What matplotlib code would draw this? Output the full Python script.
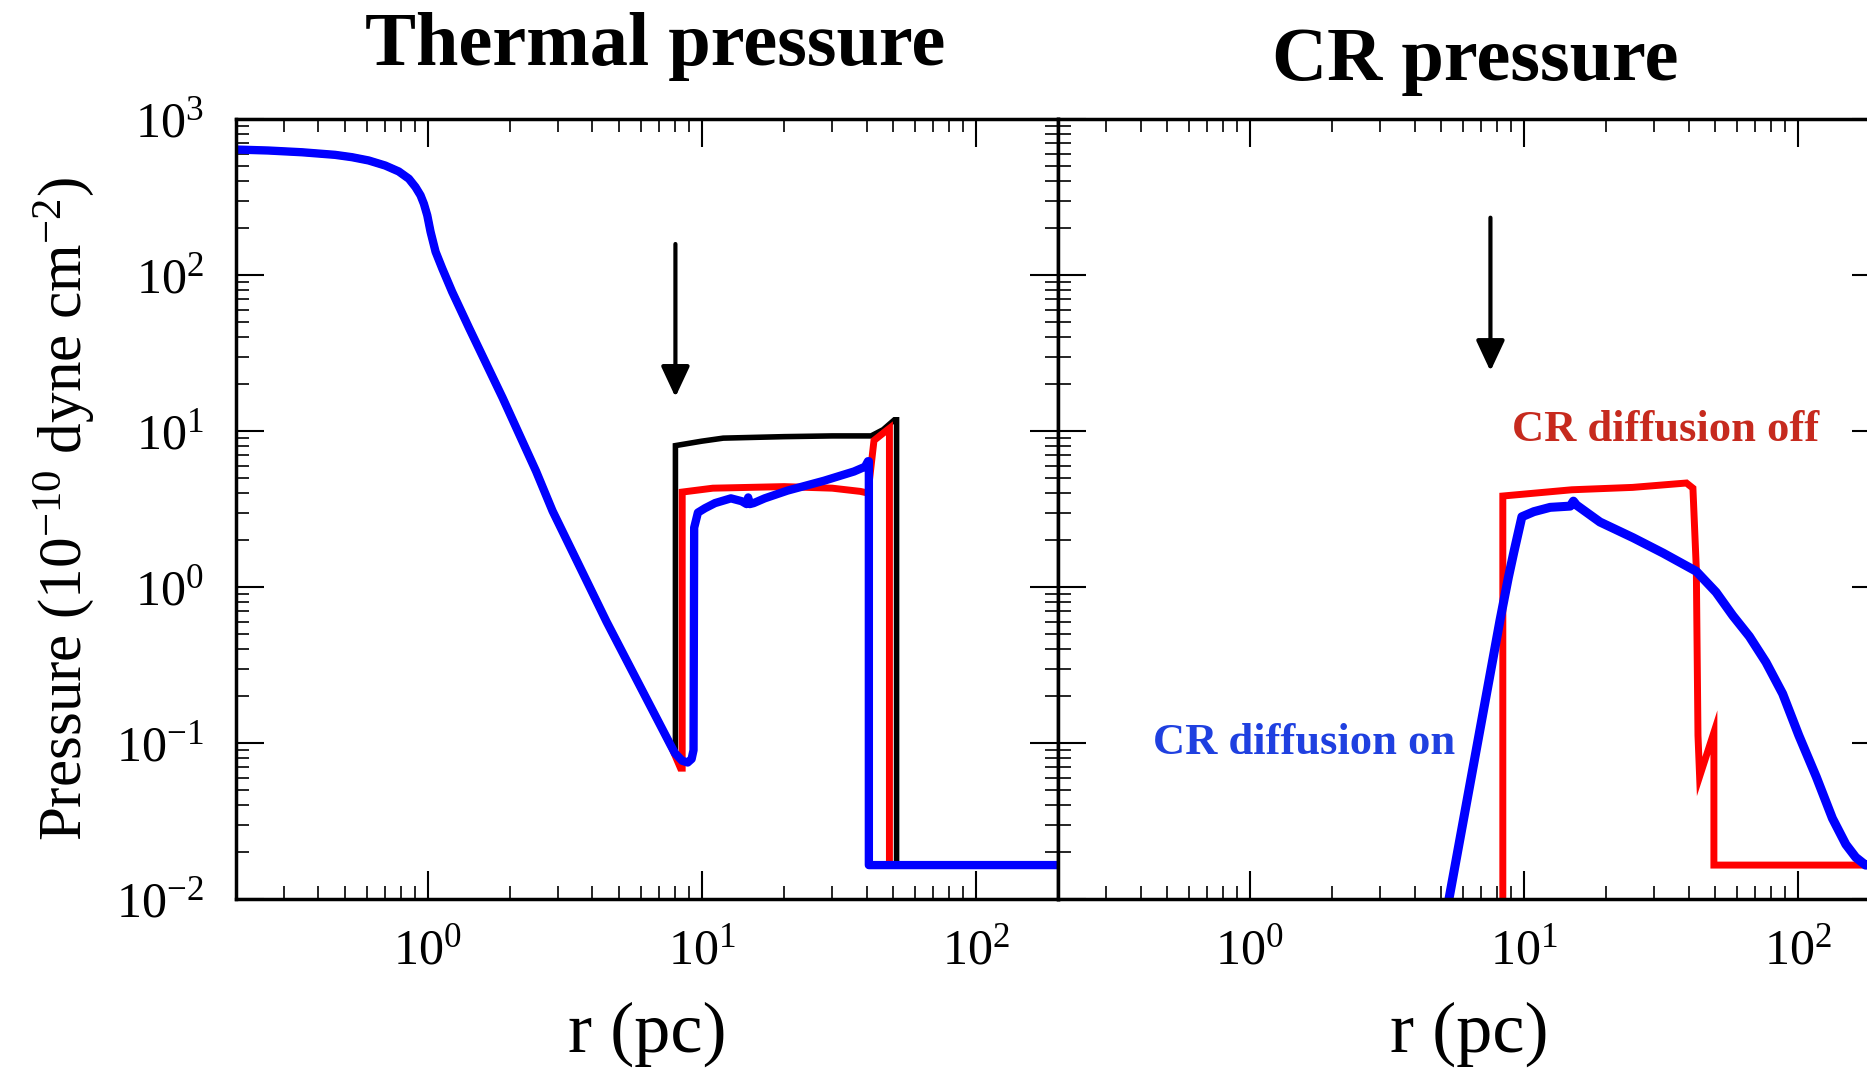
import matplotlib
matplotlib.use('Agg')
import matplotlib.pyplot as plt
from matplotlib.ticker import LogLocator, NullFormatter

plt.rcParams['font.family'] = ['Liberation Serif', 'DejaVu Serif']
plt.rcParams['mathtext.fontset'] = 'custom'
plt.rcParams['mathtext.rm'] = 'Liberation Serif'
plt.rcParams['mathtext.it'] = 'Liberation Serif:italic'
plt.rcParams['mathtext.bf'] = 'Liberation Serif:bold'
plt.rcParams['mathtext.default'] = 'regular'

# --- thermal pressure panel ---
# shared inner (free wind) profile
inner_r = [0.2, 0.262, 0.348, 0.46, 0.53, 0.61, 0.701, 0.785, 0.855, 0.904, 0.943, 0.97, 0.998,
           1.026, 1.07, 1.132, 1.23, 1.42, 1.88, 2.49, 2.86, 4.5, 7.7]
inner_p = [637, 628, 612, 589, 569, 542, 503, 461, 414, 366, 324, 286, 241,
           189, 141, 110, 78, 45.5, 16.3, 5.52, 3.07, 0.60, 0.0975]

black_r = [8.03, 8.03, 10, 12, 20, 30, 41.6, 46, 50.6, 51.5, 51.5, 200]
black_p = [0.084, 8.06, 8.6, 9.0, 9.2, 9.3, 9.3, 10.2, 11.8, 11.8, 0.0165, 0.0165]

red_r = [8.38, 8.5, 8.5, 11, 20, 30, 38, 40.5, 42.6, 46.4, 48.5, 48.5, 200]
red_p = [0.069, 0.069, 4.06, 4.3, 4.4, 4.3, 4.1, 4.0, 8.7, 9.8, 10.4, 0.0165, 0.0165]

blue_r = [8.0, 8.5, 8.9, 9.2, 9.35, 9.4, 9.7, 10.3, 11.2, 12.8, 14.0, 14.6, 14.8, 15.0, 15.5, 17, 20.6,
          28, 36, 39.5, 40.5, 40.8, 40.8, 200]
blue_p = [0.086, 0.077, 0.075, 0.079, 0.09, 2.4, 3.0, 3.2, 3.45, 3.7, 3.55, 3.4, 3.75, 3.4, 3.45, 3.7, 4.15,
          4.8, 5.5, 5.9, 6.4, 6.4, 0.0165, 0.0165]

# --- CR pressure panel ---
cr_red_r = [8.4, 8.4, 15, 25, 39.3, 41.5, 42.7, 43.3, 43.9, 49.5, 49.5, 200]
cr_red_p = [0.005, 3.83, 4.2, 4.35, 4.64, 4.3, 1.31, 0.112, 0.061, 0.117, 0.0165, 0.0165]

cr_blue_r = [5.0, 8.2, 8.8, 9.2, 9.86, 10.9, 12.5, 14.8, 15.2, 15.6, 19, 25.1, 32.3, 42.7, 50.4, 58,
             66.7, 76.7, 88.2, 101, 117, 134, 150, 163, 177, 200]
cr_blue_p = [0.0053, 0.61, 1.15, 1.65, 2.82, 3.04, 3.24, 3.3, 3.55, 3.35, 2.61, 2.07, 1.65, 1.26, 0.926,
             0.656, 0.482, 0.329, 0.207, 0.112, 0.0607, 0.0329, 0.0224, 0.0185, 0.0165, 0.0165]

fig = plt.figure(figsize=(18.67, 10.70), dpi=100)
ax1 = fig.add_axes([0.1264, 0.1598, 0.4403, 0.729])
ax2 = fig.add_axes([0.5667, 0.1598, 0.4403, 0.729])

for ax in (ax1, ax2):
    ax.set_xscale('log')
    ax.set_yscale('log')
    ax.set_xlim(0.2, 200)
    ax.set_ylim(0.01, 1000)
    ax.xaxis.set_major_locator(LogLocator(base=10))
    ax.xaxis.set_minor_locator(LogLocator(base=10, subs=range(2, 10)))
    ax.yaxis.set_major_locator(LogLocator(base=10))
    ax.yaxis.set_minor_locator(LogLocator(base=10, subs=range(2, 10)))
    ax.xaxis.set_minor_formatter(NullFormatter())
    ax.yaxis.set_minor_formatter(NullFormatter())
    ax.tick_params(which='both', direction='in', top=True, right=True, left=True, bottom=True)
    ax.tick_params(which='major', length=20, width=1.5, labelsize=36)
    ax.tick_params(which='minor', length=9.5, width=1.2)
    ax.tick_params(axis='x', which='major', pad=21)
    ax.tick_params(axis='y', which='major', pad=23)
    for s in ax.spines.values():
        s.set_linewidth(2.5)
    ax.set_xlabel('r (pc)', fontsize=52)
    ax.xaxis.set_label_coords(0.5, -0.132)

ax2.tick_params(labelleft=False)

# thermal pressure curves
ax1.plot(inner_r + black_r, inner_p + black_p, color='black', lw=4, solid_joinstyle='miter')
ax1.plot(inner_r + red_r, inner_p + red_p, color='#ff0000', lw=5, solid_joinstyle='miter')
ax1.plot(inner_r + blue_r, inner_p + blue_p, color='#0000ff', lw=6, solid_joinstyle='round')

# CR pressure curves
ax2.plot(cr_red_r, cr_red_p, color='#ff0000', lw=5, solid_joinstyle='miter')
ax2.plot(cr_blue_r, cr_blue_p, color='#0000ff', lw=6.5, solid_joinstyle='round')

arrow = dict(arrowstyle='-|>,head_length=0.75,head_width=0.35', lw=3, color='black',
             mutation_scale=25, shrinkA=0, shrinkB=0)
ax1.annotate('', xy=(8.03, 16.5), xytext=(8.03, 158), arrowprops=arrow)
ax2.annotate('', xy=(7.57, 24.2), xytext=(7.57, 233), arrowprops=arrow)

ax2.text(32.9, 8.63, 'CR diffusion off', color='#c62a1e', fontsize=32, fontweight='bold',
         ha='center', va='baseline')
ax2.text(1.575, 0.085, 'CR diffusion on', color='#1f40e0', fontsize=32, fontweight='bold',
         ha='center', va='baseline')

ax1.text(0.51, 1.069, 'Thermal pressure', transform=ax1.transAxes, fontsize=55,
         fontweight='bold', ha='center', va='baseline')
ax2.text(0.508, 1.05, 'CR pressure', transform=ax2.transAxes, fontsize=55,
         fontweight='bold', ha='center', va='baseline')

ax1.set_ylabel('Pressure (10$^{-10}$ dyne cm$^{-2}$)', fontsize=44)
ax1.yaxis.set_label_coords(-0.17, 0.5)

fig.savefig('out.png', dpi=100)
